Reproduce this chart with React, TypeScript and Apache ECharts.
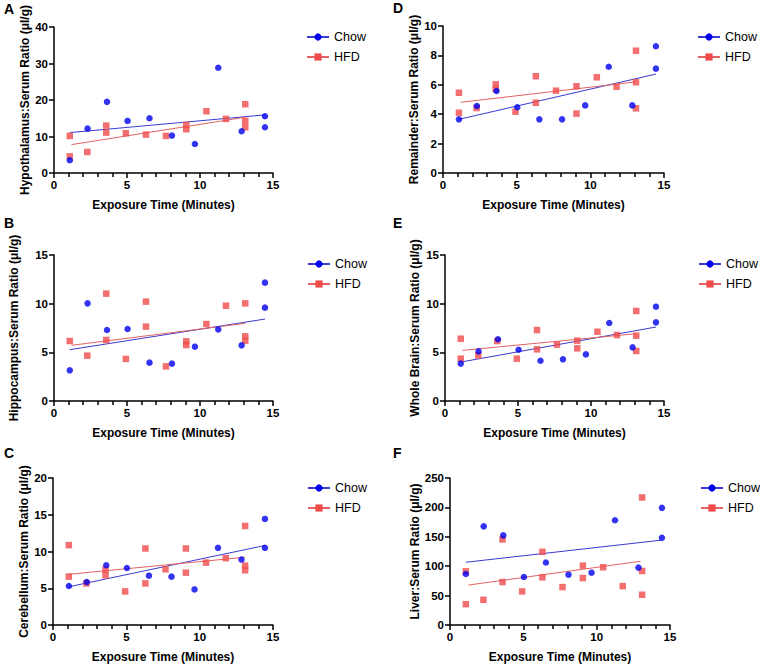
import React, { useEffect, useRef } from "react";
import * as echarts from "echarts";

// ---------- data ----------
const chowTimes = [1.08, 2.3, 3.63, 5.04, 6.54, 8.08, 9.65, 11.25, 12.85, 14.45, 14.45];

// Hypothalamus (A)
const hypoChow = [3.48, 12.17, 19.49, 14.27, 15.0, 10.25, 7.96, 28.82, 11.44, 15.55, 12.53];
const hypoHfd = [[1.08, 10.16], [1.08, 4.57], [2.28, 5.76], [3.58, 12.99], [3.58, 11.07], [4.92, 10.89], [6.3, 10.52], [7.67, 10.16], [9.06, 13.17], [9.06, 11.99], [10.44, 16.93], [11.78, 14.82], [13.1, 18.85], [13.1, 14.27], [13.1, 12.53]];
const hypoFitChow = [[1.08, 11.07], [14.45, 15.92]];
const hypoFitHfd = [[1.2, 7.78], [13.1, 15.28]];

// Hippocampus (B)
const hippoChow = [3.15, 10.03, 7.29, 7.4, 3.94, 3.84, 5.58, 7.36, 5.72, 12.16, 9.59];
const hippoHfd = [[1.08, 6.16], [2.28, 4.66], [3.58, 11.03], [3.58, 6.27], [4.92, 4.32], [6.3, 10.21], [6.3, 7.64], [7.67, 3.56], [9.06, 6.13], [9.06, 5.75], [10.44, 7.91], [11.78, 9.79], [13.1, 10.03], [13.1, 6.64], [13.1, 6.2]];
const hippoFitChow = [[1.08, 5.27], [14.45, 8.42]];
const hippoFitHfd = [[1.2, 5.72], [13.1, 7.98]];

// Cerebellum (C)
const cereChow = [5.3, 5.84, 8.13, 7.76, 6.71, 6.58, 4.84, 10.5, 8.9, 14.43, 10.5];
const cereHfd = [[1.08, 10.87], [1.08, 6.58], [2.28, 5.66], [3.58, 7.53], [3.58, 6.76], [4.92, 4.57], [6.3, 10.41], [6.3, 5.66], [7.67, 7.58], [9.06, 10.41], [9.06, 7.12], [10.44, 8.49], [11.78, 9.09], [13.1, 13.47], [13.1, 8.08], [13.1, 7.44]];
const cereFitChow = [[1.08, 5.2], [14.45, 10.82]];
const cereFitHfd = [[1.08, 6.9], [13.1, 9.22]];

// Remainder (D)
const remChow = [3.65, 4.56, 5.58, 4.47, 3.65, 3.65, 4.6, 7.23, 4.6, 8.62, 7.1];
const remHfd = [[1.08, 5.46], [1.08, 4.1], [2.28, 4.42], [3.58, 6.03], [3.58, 5.71], [4.92, 4.17], [6.3, 6.58], [6.3, 4.78], [7.67, 5.6], [9.06, 5.9], [9.06, 4.04], [10.44, 6.51], [11.78, 5.87], [13.1, 8.32], [13.1, 6.17], [13.1, 4.4]];
const remFitChow = [[1.08, 3.65], [14.45, 6.73]];
const remFitHfd = [[1.2, 4.81], [13.1, 6.2]];

// Whole brain (E)
const wbChow = [3.84, 5.1, 6.34, 5.27, 4.14, 4.28, 4.79, 8.01, 5.51, 9.69, 8.08];
const wbHfd = [[1.08, 6.4], [1.08, 4.35], [2.28, 4.69], [3.58, 6.16], [4.92, 4.35], [6.3, 7.29], [6.3, 5.31], [7.67, 5.79], [9.06, 6.2], [9.06, 5.41], [10.44, 7.12], [11.78, 6.78], [13.1, 9.25], [13.1, 6.71], [13.1, 5.14]];
const wbFitChow = [[1.08, 4.0], [14.45, 7.6]];
const wbFitHfd = [[1.2, 5.2], [13.1, 6.92]];

// Liver (F)
const liverChow = [86.8, 167.8, 152.4, 81.6, 106.2, 85.6, 89.0, 178.1, 97.6, 199.2, 148.4];
const liverHfd = [[1.08, 91.3], [1.08, 35.4], [2.28, 42.8], [3.58, 145.5], [3.58, 73.1], [4.92, 57.1], [6.3, 124.4], [6.3, 81.1], [7.67, 64.5], [9.06, 101.0], [9.06, 79.9], [10.44, 98.2], [11.78, 66.2], [13.1, 216.9], [13.1, 91.9], [13.1, 51.4]];
const liverFitChow = [[1.08, 106.7], [14.45, 144.4]];
const liverFitHfd = [[1.25, 67.9], [13.0, 108.4]];

const seriesNames = ["Chow", "HFD"];
const xTitle = "Exposure Time (Minutes)";
const xMax = 15;
const xStep = 5;

const panelData = [
  { letter: "A", yTitle: "Hypothalamus:Serum Ratio (μl/g)", yMax: 40, yStep: 10, chow: hypoChow, hfd: hypoHfd, fitChow: hypoFitChow, fitHfd: hypoFitHfd },
  { letter: "B", yTitle: "Hippocampus:Serum Ratio (μl/g)", yMax: 15, yStep: 5, chow: hippoChow, hfd: hippoHfd, fitChow: hippoFitChow, fitHfd: hippoFitHfd },
  { letter: "C", yTitle: "Cerebellum:Serum Ratio (μl/g)", yMax: 20, yStep: 5, chow: cereChow, hfd: cereHfd, fitChow: cereFitChow, fitHfd: cereFitHfd },
  { letter: "D", yTitle: "Remainder:Serum Ratio (μl/g)", yMax: 10, yStep: 2, chow: remChow, hfd: remHfd, fitChow: remFitChow, fitHfd: remFitHfd },
  { letter: "E", yTitle: "Whole Brain:Serum Ratio (μl/g)", yMax: 15, yStep: 5, chow: wbChow, hfd: wbHfd, fitChow: wbFitChow, fitHfd: wbFitHfd },
  { letter: "F", yTitle: "Liver:Serum Ratio (μl/g)", yMax: 250, yStep: 50, chow: liverChow, hfd: liverHfd, fitChow: liverFitChow, fitHfd: liverFitHfd },
];

// ---------- layout ----------
const layout = [
  { grid: [54, 27, 219, 146], nameGap: 23, legend: [306, 27], letter: [4, 2] },
  { grid: [54, 255, 219, 146], nameGap: 34, legend: [307, 254], letter: [4, 216] },
  { grid: [53, 478, 220, 147], nameGap: 21, legend: [307, 478], letter: [4, 446] },
  { grid: [443, 26, 221, 147], nameGap: 22, legend: [697, 27], letter: [393, 1] },
  { grid: [445, 255, 219, 146], nameGap: 24, legend: [698, 254], letter: [393, 216] },
  { grid: [450, 478, 220, 147], nameGap: 29, legend: [700, 478], letter: [393, 446] },
];

const FONT = "'Liberation Sans', Arial, Helvetica, sans-serif";
const BLUE = "#0000f0";
const BLUE_LINE = "#3a3ad0";
const RED = "#f04b4b";
const RED_LINE = "#e46262";

function buildOption() {
  const axisLine = { show: true, onZero: false, lineStyle: { color: "#000", width: 1.5 } };
  const grid: any[] = [];
  const xAxis: any[] = [];
  const yAxis: any[] = [];
  const legend: any[] = [];
  const series: any[] = [];
  const graphic: any[] = [];

  panelData.forEach((p, i) => {
    const L = layout[i];
    grid.push({ left: L.grid[0], top: L.grid[1], width: L.grid[2], height: L.grid[3] });
    xAxis.push({
      type: "value", gridIndex: i, min: 0, max: xMax, interval: xStep,
      axisLine,
      axisTick: { show: true, length: 5, lineStyle: { color: "#000", width: 1.5 } },
      minorTick: { show: true, splitNumber: 5, length: 4, lineStyle: { color: "#000", width: 1.5 } },
      splitLine: { show: false },
      axisLabel: { color: "#000", fontWeight: "bold", fontSize: 11.5, margin: 6, fontFamily: FONT },
      name: xTitle, nameLocation: "middle", nameGap: 26,
      nameTextStyle: { color: "#000", fontWeight: "bold", fontSize: 12, fontFamily: FONT },
    });
    yAxis.push({
      type: "value", gridIndex: i, min: 0, max: p.yMax, interval: p.yStep,
      axisLine,
      axisTick: { show: true, length: 5, lineStyle: { color: "#000", width: 1.5 } },
      splitLine: { show: false },
      axisLabel: { color: "#000", fontWeight: "bold", fontSize: 11.5, margin: 6, fontFamily: FONT },
      name: p.yTitle, nameLocation: "middle", nameGap: L.nameGap, nameRotate: 90,
      nameTextStyle: { color: "#000", fontWeight: "bold", fontSize: 12, fontFamily: FONT },
    });
    legend.push({
      orient: "vertical", left: L.legend[0], top: L.legend[1], padding: 0, itemGap: 0,
      itemWidth: 22, itemHeight: 9,
      data: seriesNames,
      textStyle: { color: "#000", fontSize: 12.5, lineHeight: 20, fontFamily: FONT },
    });
    series.push({
      type: "line", name: seriesNames[0], xAxisIndex: i, yAxisIndex: i, data: p.fitChow,
      symbol: "circle", showSymbol: false, silent: true, z: 1,
      lineStyle: { color: BLUE_LINE, width: 1 }, itemStyle: { color: BLUE },
    });
    series.push({
      type: "line", name: seriesNames[1], xAxisIndex: i, yAxisIndex: i, data: p.fitHfd,
      symbol: "rect", showSymbol: false, silent: true, z: 1,
      lineStyle: { color: RED_LINE, width: 1 }, itemStyle: { color: RED },
    });
    series.push({
      type: "scatter", name: seriesNames[1], xAxisIndex: i, yAxisIndex: i, data: p.hfd,
      symbol: "rect", symbolSize: 6.5, z: 2, itemStyle: { color: RED },
    });
    series.push({
      type: "scatter", name: seriesNames[0], xAxisIndex: i, yAxisIndex: i,
      data: p.chow.map((v, k) => [chowTimes[k], v]),
      symbol: "circle", symbolSize: 6.5, z: 3, itemStyle: { color: BLUE },
    });
    graphic.push({
      type: "text", left: L.letter[0], top: L.letter[1],
      style: { text: p.letter, fill: "#000", font: `bold 14px ${FONT}` },
    });
  });

  return {
    animation: false,
    backgroundColor: "#fff",
    textStyle: { fontFamily: FONT },
    grid, xAxis, yAxis, legend, series, graphic,
  };
}

export default function App() {
  const ref = useRef<HTMLDivElement>(null);
  useEffect(() => {
    document.body.style.margin = "0";
    const chart = echarts.init(ref.current!, undefined, { renderer: "svg" });
    chart.setOption(buildOption() as any);
    return () => chart.dispose();
  }, []);
  return <div ref={ref} style={{ position: "fixed", left: 0, top: 0, width: 760, height: 664, background: "#fff" }} />;
}
